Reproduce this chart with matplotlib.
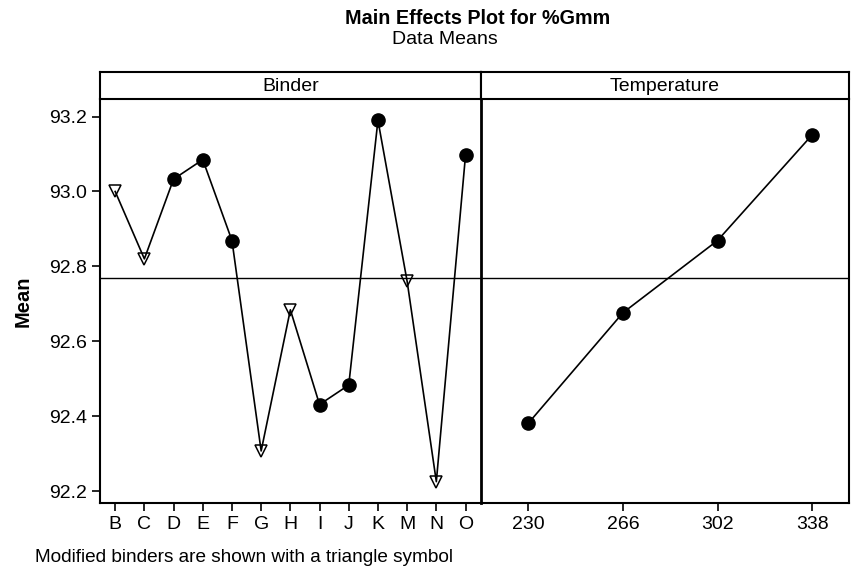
import matplotlib
matplotlib.use("Agg")
import matplotlib.pyplot as plt

plt.rcParams['font.family'] = ['Liberation Sans', 'DejaVu Sans']

binders = ["B", "C", "D", "E", "F", "G", "H", "I", "J", "K", "M", "N", "O"]
binder_means = [93.00, 92.82, 93.033, 93.085, 92.869, 92.307, 92.684, 92.431, 92.483, 93.19, 92.76, 92.225, 93.097]
modified = ["B", "C", "G", "H", "M", "N"]

temps = ["230", "266", "302", "338"]
temp_means = [92.381, 92.676, 92.869, 93.151]

grand_mean = 92.769
yticks = [92.2, 92.4, 92.6, 92.8, 93.0, 93.2]

W, H = 851, 574
fig = plt.figure(figsize=(W / 100, H / 100), dpi=100)

def fx(px):
    return px / W

def fy(py):
    return 1 - py / H

top, bot, strip_top = 99, 503, 72
xl, xm, xr = 100, 481, 849
ylim = (92.168, 93.247)

ax1 = fig.add_axes([fx(xl), fy(bot), fx(xm - xl), fy(top) - fy(bot)])
ax2 = fig.add_axes([fx(xm), fy(bot), fx(xr - xm), fy(top) - fy(bot)])
s1 = fig.add_axes([fx(xl), fy(top), fx(xm - xl), fy(strip_top) - fy(top)])
s2 = fig.add_axes([fx(xm), fy(top), fx(xr - xm), fy(strip_top) - fy(top)])

lw_frame = 1.5
for a in (ax1, ax2, s1, s2):
    for sp in a.spines.values():
        sp.set_linewidth(lw_frame)

for s, label in ((s1, "Binder"), (s2, "Temperature")):
    s.set_xticks([])
    s.set_yticks([])
    s.text(0.5, 0.45, label, transform=s.transAxes, ha="center", va="center", fontsize=14)

# Binder panel
xb = list(range(len(binders)))
ax1.plot(xb, binder_means, color="black", lw=1.2, zorder=2)
for i, (b, m) in enumerate(zip(binders, binder_means)):
    if b in modified:
        ax1.plot(i, m, marker="v", ms=9, mfc="none", mec="black", mew=1.1, zorder=3)
    else:
        ax1.plot(i, m, marker="o", ms=9.5, color="black", zorder=3)
ax1.axhline(grand_mean, color="black", lw=1.0, zorder=1)
ax1.set_xlim(-0.52, 12.53)
ax1.set_ylim(*ylim)
ax1.set_xticks(xb)
ax1.set_xticklabels(binders)
ax1.set_yticks(yticks)
ax1.set_yticklabels([f"{v:.1f}" for v in yticks])
ax1.tick_params(axis="both", labelsize=14, length=6, width=1.2, direction="out")
ax1.tick_params(axis="y", pad=3)
ax1.spines["right"].set_visible(False)
ax1.spines["top"].set_visible(False)
ax1.set_ylabel("Mean", fontsize=14.5, fontweight="bold", labelpad=12)

# Temperature panel
xt = list(range(len(temps)))
ax2.plot(xt, temp_means, color="black", lw=1.2, marker="o", ms=9.5, zorder=3)
ax2.axhline(grand_mean, color="black", lw=1.0, zorder=1)
ax2.set_xlim(-0.5, 3.39)
ax2.set_ylim(*ylim)
ax2.set_xticks(xt)
ax2.set_xticklabels(temps)
ax2.set_yticks([])
ax2.tick_params(axis="x", labelsize=14, length=6, width=1.2, direction="out")
ax2.spines["top"].set_visible(False)
ax2.spines["left"].set_linewidth(2.0)

fig.text(fx(478), fy(18), "Main Effects Plot for %Gmm", ha="center", va="center",
         fontsize=14.2, fontweight="bold")
fig.text(fx(445), fy(40), "Data Means", ha="center", va="center", fontsize=14)
fig.text(fx(35), fy(557), "Modified binders are shown with a triangle symbol",
         ha="left", va="center", fontsize=13.7)

fig.savefig("out.png", dpi=100)
